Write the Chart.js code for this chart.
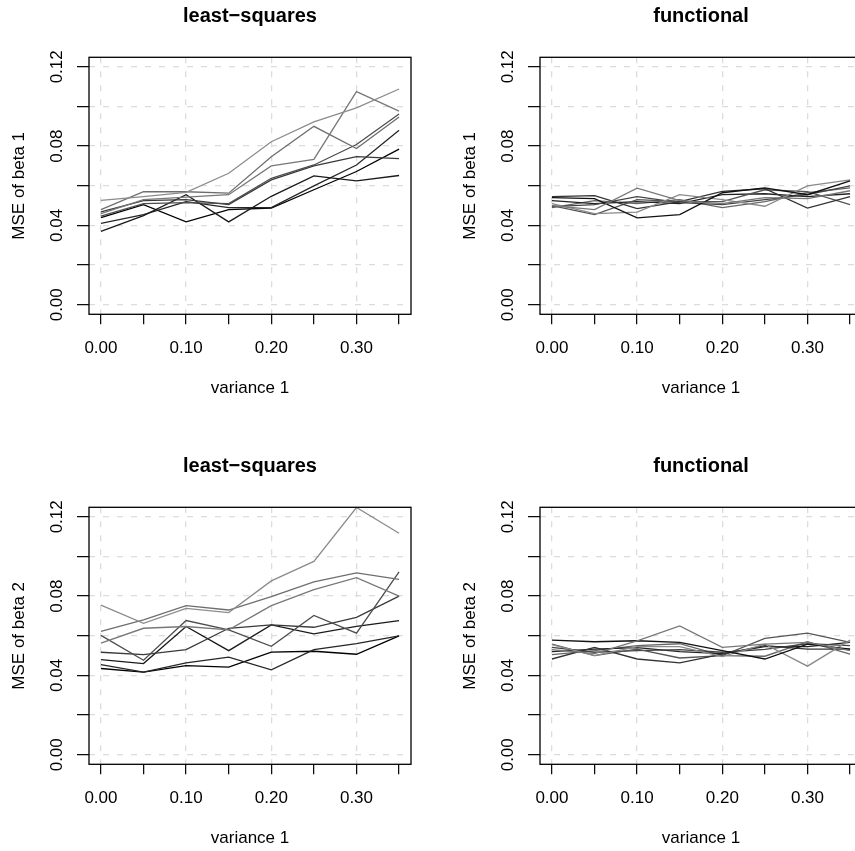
<!DOCTYPE html>
<html>
<head>
<meta charset="utf-8">
<script src="https://cdn.jsdelivr.net/npm/chart.js@4.4.1/dist/chart.umd.min.js"></script>
<style>
  html, body { margin: 0; padding: 0; background: #fff; }
  #fig { position: relative; width: 855px; height: 851px; overflow: hidden; }
  #fig canvas { position: absolute; }
</style>
</head>
<body>
<div id="fig">
  <canvas id="p1" width="451" height="450" style="left:0;top:0"></canvas>
  <canvas id="p2" width="451" height="450" style="left:451px;top:0"></canvas>
  <canvas id="p3" width="451" height="450" style="left:0;top:450px"></canvas>
  <canvas id="p4" width="451" height="450" style="left:451px;top:450px"></canvas>
</div>
<script>
const variance = [0, 0.05, 0.10, 0.15, 0.20, 0.25, 0.30, 0.35];
const xLabelled = [0, 0.10, 0.20, 0.30];
const yTicks = [0, 0.02, 0.04, 0.06, 0.08, 0.10, 0.12];
const yLabelled = [0, 0.04, 0.08, 0.12];

// one grey per simulation run (8 runs per panel)
const lsGreys = ['#8c8c8c', '#6e6e6e', '#787878', '#4d4d4d', '#3a3a3a', '#1a1a1a', '#262626', '#000000'];
const fnGreys = ['#777777', '#111111', '#8a8a8a', '#333333', '#555555', '#444444', '#222222', '#666666'];

// MSE of beta 1, least-squares
const lsBeta1 = [
  [0.0527, 0.0545, 0.0567, 0.0663, 0.0822, 0.0922, 0.0993, 0.1088],
  [0.0480, 0.0570, 0.0570, 0.0563, 0.0747, 0.0900, 0.0788, 0.0947],
  [0.0460, 0.0530, 0.0543, 0.0555, 0.0700, 0.0733, 0.1075, 0.0977],
  [0.0447, 0.0510, 0.0515, 0.0510, 0.0638, 0.0705, 0.0808, 0.0962],
  [0.0468, 0.0525, 0.0530, 0.0505, 0.0630, 0.0700, 0.0747, 0.0737],
  [0.0370, 0.0450, 0.0555, 0.0418, 0.0547, 0.0650, 0.0625, 0.0652],
  [0.0410, 0.0455, 0.0520, 0.0490, 0.0490, 0.0600, 0.0705, 0.0880],
  [0.0440, 0.0505, 0.0418, 0.0480, 0.0488, 0.0580, 0.0672, 0.0785]
];

// MSE of beta 1, functional
const fnBeta1 = [
  [0.0500, 0.0480, 0.0588, 0.0525, 0.0510, 0.0540, 0.0535, 0.0575],
  [0.0540, 0.0535, 0.0438, 0.0455, 0.0565, 0.0590, 0.0555, 0.0625],
  [0.0510, 0.0460, 0.0467, 0.0555, 0.0530, 0.0497, 0.0600, 0.0630],
  [0.0545, 0.0550, 0.0485, 0.0520, 0.0572, 0.0585, 0.0488, 0.0545],
  [0.0500, 0.0455, 0.0530, 0.0520, 0.0520, 0.0580, 0.0570, 0.0505],
  [0.0495, 0.0505, 0.0545, 0.0515, 0.0505, 0.0530, 0.0555, 0.0600],
  [0.0525, 0.0510, 0.0520, 0.0510, 0.0555, 0.0560, 0.0545, 0.0560],
  [0.0490, 0.0525, 0.0510, 0.0530, 0.0490, 0.0520, 0.0565, 0.0590]
];

// MSE of beta 2, least-squares
const lsBeta2 = [
  [0.0755, 0.0663, 0.0738, 0.0717, 0.0877, 0.0975, 0.1247, 0.1117],
  [0.0622, 0.0680, 0.0752, 0.0730, 0.0797, 0.0872, 0.0917, 0.0885],
  [0.0563, 0.0638, 0.0647, 0.0630, 0.0752, 0.0833, 0.0893, 0.0800],
  [0.0602, 0.0477, 0.0677, 0.0630, 0.0547, 0.0703, 0.0613, 0.0922],
  [0.0517, 0.0505, 0.0530, 0.0638, 0.0655, 0.0643, 0.0693, 0.0800],
  [0.0480, 0.0460, 0.0647, 0.0525, 0.0655, 0.0610, 0.0647, 0.0677],
  [0.0455, 0.0417, 0.0463, 0.0492, 0.0428, 0.0530, 0.0560, 0.0600],
  [0.0435, 0.0417, 0.0450, 0.0442, 0.0518, 0.0522, 0.0507, 0.0600]
];

// MSE of beta 2, functional
const fnBeta2 = [
  [0.0530, 0.0510, 0.0575, 0.0650, 0.0542, 0.0558, 0.0567, 0.0525],
  [0.0578, 0.0570, 0.0575, 0.0567, 0.0525, 0.0483, 0.0558, 0.0533],
  [0.0555, 0.0500, 0.0545, 0.0545, 0.0495, 0.0558, 0.0447, 0.0578],
  [0.0483, 0.0542, 0.0483, 0.0463, 0.0508, 0.0550, 0.0533, 0.0533],
  [0.0558, 0.0500, 0.0533, 0.0488, 0.0500, 0.0587, 0.0613, 0.0567],
  [0.0542, 0.0517, 0.0525, 0.0530, 0.0517, 0.0532, 0.0560, 0.0550],
  [0.0520, 0.0533, 0.0540, 0.0520, 0.0510, 0.0545, 0.0545, 0.0567],
  [0.0505, 0.0525, 0.0550, 0.0560, 0.0500, 0.0497, 0.0570, 0.0508]
];

const FONT = '"Liberation Sans", Arial, Helvetica, sans-serif';

function near(v, list) {
  return list.some(t => Math.abs(t - v) < 1e-6);
}

// R style box round the plot region
const boxPlugin = {
  id: 'box',
  afterDatasetsDraw(chart) {
    const a = chart.chartArea;
    const c = chart.ctx;
    c.save();
    c.strokeStyle = '#000';
    c.lineWidth = 1.3;
    c.strokeRect(a.left, a.top, a.right - a.left, a.bottom - a.top);
    c.restore();
  }
};

function makePanel(id, title, yTitle, series, greys) {
  new Chart(document.getElementById(id), {
    type: 'line',
    data: {
      datasets: series.map((vals, i) => ({
        data: vals.map((v, j) => ({ x: variance[j], y: v })),
        borderColor: greys[i],
        borderWidth: 1.3,
        pointRadius: 0,
        tension: 0,
        fill: false
      }))
    },
    options: {
      responsive: false,
      animation: false,
      events: [],
      layout: { padding: { left: 0, right: 40, top: 0, bottom: 35.7 } },
      plugins: {
        legend: { display: false },
        tooltip: { enabled: false },
        title: {
          display: true,
          text: title,
          fullSize: false,
          color: '#000',
          font: { family: FONT, size: 20, weight: 'bold', lineHeight: 1.2 },
          padding: { top: 4, bottom: 29.3 }
        }
      },
      scales: {
        x: {
          type: 'linear',
          min: -0.014,
          max: 0.364,
          afterBuildTicks: s => { s.ticks = variance.map(v => ({ value: v })); },
          afterFit: s => { s.height = 100; s.paddingLeft = 0; s.paddingRight = 0; },
          ticks: {
            autoSkip: false,
            minRotation: 0,
            maxRotation: 0,
            padding: 14,
            color: '#000',
            font: { family: FONT, size: 17 },
            callback: v => near(v, xLabelled) ? v.toFixed(2) : ''
          },
          grid: {
            color: ctx => (ctx.tick && near(ctx.tick.value, xLabelled)) ? '#dcdcdc' : 'rgba(0,0,0,0)',
            lineWidth: 1.3,
            tickColor: '#000',
            tickLength: 10,
            tickWidth: 1.2
          },
          border: { display: false, dash: [6, 8] },
          title: {
            display: true,
            text: 'variance 1',
            color: '#000',
            font: { family: FONT, size: 17 },
            padding: { top: 0, bottom: 15.4 }
          }
        },
        y: {
          type: 'linear',
          min: -0.0048,
          max: 0.1248,
          afterBuildTicks: s => { s.ticks = yTicks.map(v => ({ value: v })); },
          afterFit: s => { s.width = 89; s.paddingTop = 0; s.paddingBottom = 0; },
          ticks: {
            autoSkip: false,
            minRotation: 90,
            maxRotation: 90,
            crossAlign: 'center',
            padding: 3,
            color: '#000',
            font: { family: FONT, size: 17 },
            callback: v => near(v, yLabelled) ? v.toFixed(2) : ''
          },
          grid: {
            color: '#dcdcdc',
            lineWidth: 1.3,
            tickColor: '#000',
            tickLength: 12,
            tickWidth: 1.2
          },
          border: { display: false, dash: [6, 8] },
          title: {
            display: true,
            text: yTitle,
            color: '#000',
            font: { family: FONT, size: 17 },
            padding: { top: 9.3, bottom: 0 }
          }
        }
      }
    },
    plugins: [boxPlugin]
  });
}

makePanel('p1', 'least\u2212squares', 'MSE of beta 1', lsBeta1, lsGreys);
makePanel('p2', 'functional', 'MSE of beta 1', fnBeta1, fnGreys);
makePanel('p3', 'least\u2212squares', 'MSE of beta 2', lsBeta2, lsGreys);
makePanel('p4', 'functional', 'MSE of beta 2', fnBeta2, fnGreys);
</script>
</body>
</html>
